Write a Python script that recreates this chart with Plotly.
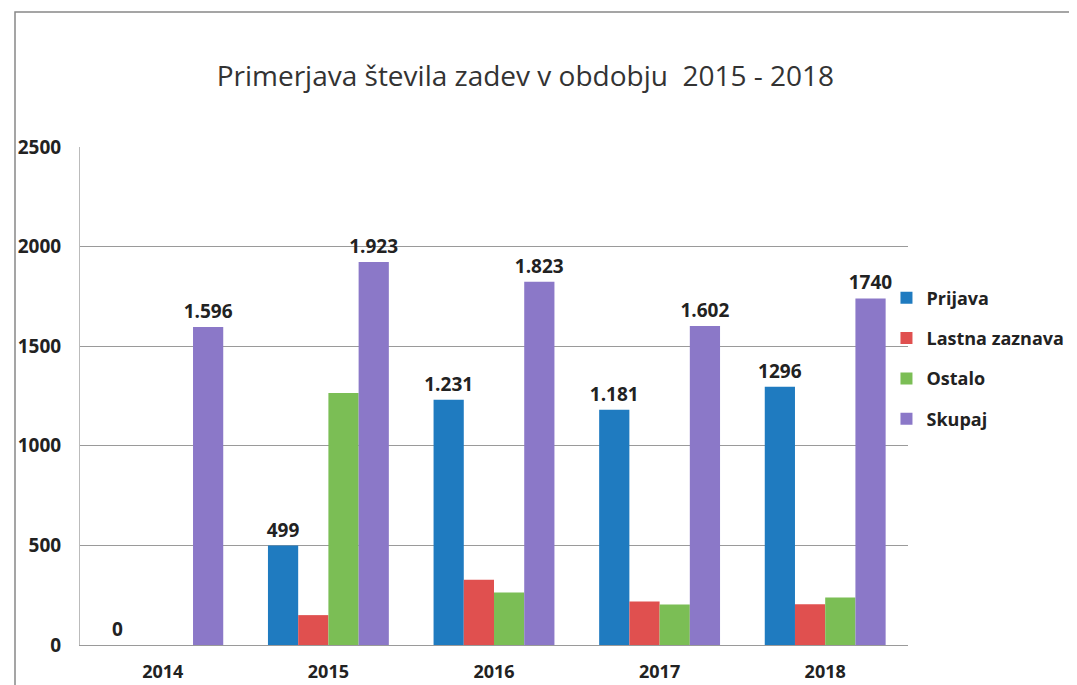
import plotly.graph_objects as go

years = ["2014", "2015", "2016", "2017", "2018"]
prijava = [0, 499, 1231, 1181, 1296]
lastna = [None, 150, 328, 218, 205]
ostalo = [None, 1265, 264, 203, 239]
skupaj = [1596, 1923, 1823, 1602, 1740]
prijava_lbl = ["0", "499", "1.231", "1.181", "1296"]
skupaj_lbl = ["1.596", "1.923", "1.823", "1.602", "1740"]

FONT = "Open Sans"
lblfont = dict(family=FONT, size=19, color="#222", weight="bold")

fig = go.Figure()
fig.add_trace(go.Bar(name="Prijava", x=years, y=prijava, marker_color="#1F7BC0",
                     text=prijava_lbl, textposition="outside", textfont=lblfont,
                     constraintext="none", cliponaxis=False, legendgroup="a"))
fig.add_trace(go.Bar(name="Lastna zaznava", x=years, y=lastna, marker_color="#E0504F",
                     legendgroup="b"))
fig.add_trace(go.Bar(name="Ostalo", x=years, y=ostalo, marker_color="#7BBE55",
                     legendgroup="c"))
fig.add_trace(go.Bar(name="Skupaj", x=years, y=skupaj, marker_color="#8B78C8",
                     text=skupaj_lbl, textposition="outside", textfont=lblfont,
                     constraintext="none", cliponaxis=False, legendgroup="d"))

fig.update_traces(marker_line_width=0)

fig.update_layout(
    width=1069, height=677,
    margin=dict(l=72, r=169, t=139, b=40, autoexpand=False),
    paper_bgcolor="white", plot_bgcolor="white",
    barmode="group", bargap=0.27, bargroupgap=0.0,
    title=dict(text="Primerjava števila zadev v obdobju  2015 - 2018",
               xref="container", x=0.484, xanchor="center",
               yref="container", y=0.90, yanchor="middle",
               font=dict(family=FONT, size=28, color="#333")),
    legend=dict(x=0.974, y=0.734, xanchor="left", yanchor="top",
                traceorder="grouped", tracegroupgap=14,
                font=dict(family=FONT, size=18, color="#222", weight="bold"),
                bgcolor="rgba(0,0,0,0)"),
)
fig.update_yaxes(range=[0, 2500], dtick=500, showgrid=True, gridcolor="#9a9a9a",
                 gridwidth=1, zeroline=False, showline=True, linecolor="#bbbbbb",
                 ticks="", ticklabelstandoff=14, automargin=False,
                 tickfont=dict(family=FONT, size=19, color="#222", weight="bold"))
fig.update_xaxes(showline=True, linecolor="#9a9a9a", ticks="", automargin=False,
                 ticklabelstandoff=10,
                 tickfont=dict(family=FONT, size=18, color="#222", weight="bold"))

fig.add_shape(type="rect", xref="paper", yref="paper",
              x0=-0.0785, x1=1.3, y0=-0.3, y1=1.271,
              line=dict(color="#888", width=1.5), fillcolor="rgba(0,0,0,0)", layer="below")

fig.write_html("out.html")
